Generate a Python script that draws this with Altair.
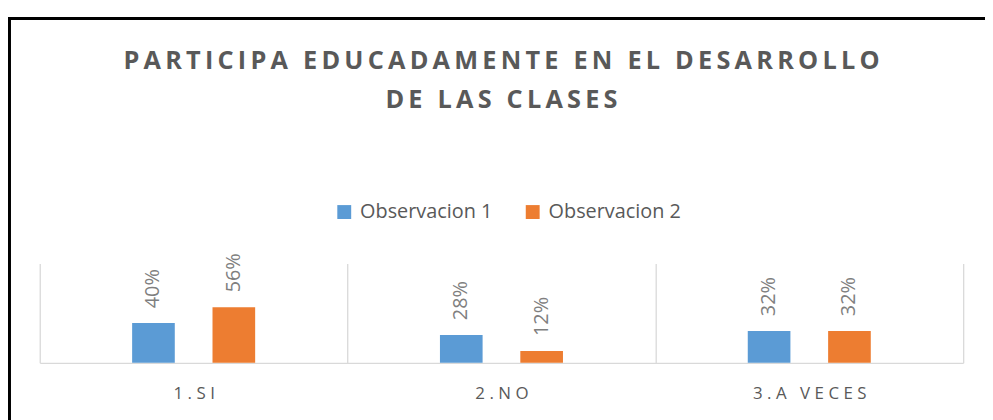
import altair as alt
import pandas as pd

categories = ["1.SI", "2.NO", "3.A VECES"]
series = ["Observacion 1", "Observacion 2"]
obs1 = [0.40, 0.28, 0.32]
obs2 = [0.56, 0.12, 0.32]
title_lines = ["PARTICIPA EDUCADAMENTE EN EL DESARROLLO", "DE LAS CLASES"]
colors = ["#5B9BD5", "#ED7D31"]

AX_SP = "\u2009\u200a"  # emulated letter spacing for axis labels
TI_SP = "\u2006"        # emulated letter spacing for title


def spaced(s, sep):
    return sep.join(list(s))


cat_labels = [spaced(c, AX_SP) for c in categories]
title_spaced = [spaced(t, TI_SP) for t in title_lines]

rows = []
for i, c in enumerate(cat_labels):
    rows.append({"cat": c, "serie": series[0], "value": obs1[i]})
    rows.append({"cat": c, "serie": series[1], "value": obs2[i]})
df = pd.DataFrame(rows)

FONT = "Open Sans"

xscale = alt.Scale(domain=cat_labels, paddingInner=0, paddingOuter=0)
yscale = alt.Scale(domain=[0, 1])
xoff = alt.XOffset("serie:N", sort=series,
                   scale=alt.Scale(paddingInner=0, paddingOuter=0.915))

x_enc = alt.X("cat:N", scale=xscale, sort=cat_labels, title=None,
              axis=alt.Axis(labelAngle=0, ticks=False, grid=True,
                            tickBand="extent", gridColor="#D9D9D9",
                            gridWidth=1.3,
                            domainColor="#D9D9D9", domainWidth=1.3,
                            labelFont=FONT, labelFontSize=17,
                            labelColor="#595959", labelPadding=23))

base = alt.Chart(df)

bars = base.mark_bar(width=43).encode(
    x=x_enc,
    xOffset=xoff,
    y=alt.Y("value:Q", scale=yscale, axis=None, stack=None),
    color=alt.Color("serie:N", sort=series,
                    scale=alt.Scale(domain=series, range=colors),
                    legend=alt.Legend(title=None, orient="none",
                                      direction="horizontal",
                                      legendX=297, legendY=-62,
                                      symbolType="square", symbolSize=196,
                                      symbolStrokeWidth=0, symbolOpacity=1,
                                      labelFont=FONT, labelFontSize=20,
                                      labelColor="#595959", labelOffset=6,
                                      columnPadding=30, padding=0)),
)

labels = base.mark_text(angle=270, align="left", baseline="middle",
                        dx=15, font=FONT, fontSize=20,
                        color="#7F7F7F").encode(
    x=alt.X("cat:N", scale=xscale, sort=cat_labels),
    xOffset=xoff,
    y=alt.Y("value:Q", scale=yscale),
    text=alt.Text("value:Q", format=".0%"),
)

frame_left = base.mark_rule(color="black", strokeWidth=3).encode(
    x=alt.value(-31), y=alt.value(-248), y2=alt.value(300))
frame_top = base.mark_rule(color="black", strokeWidth=3).encode(
    x=alt.value(-32), x2=alt.value(1000), y=alt.value(-247))

chart = alt.layer(bars, labels, frame_left, frame_top).properties(
    width=931, height=100,
    autosize=alt.AutoSizeParams(type="none"),
    padding={"left": 32, "top": 256, "right": 22, "bottom": 60},
    title=alt.Title(title_spaced, fontSize=25.5, fontWeight="bold", font=FONT,
                    color="#595959", lineHeight=39, anchor="middle",
                    frame="group", offset=0, dy=98),
).configure(background="white").configure_view(stroke=None)

chart.save("out.html", embed_options={"renderer": "svg", "actions": False})
